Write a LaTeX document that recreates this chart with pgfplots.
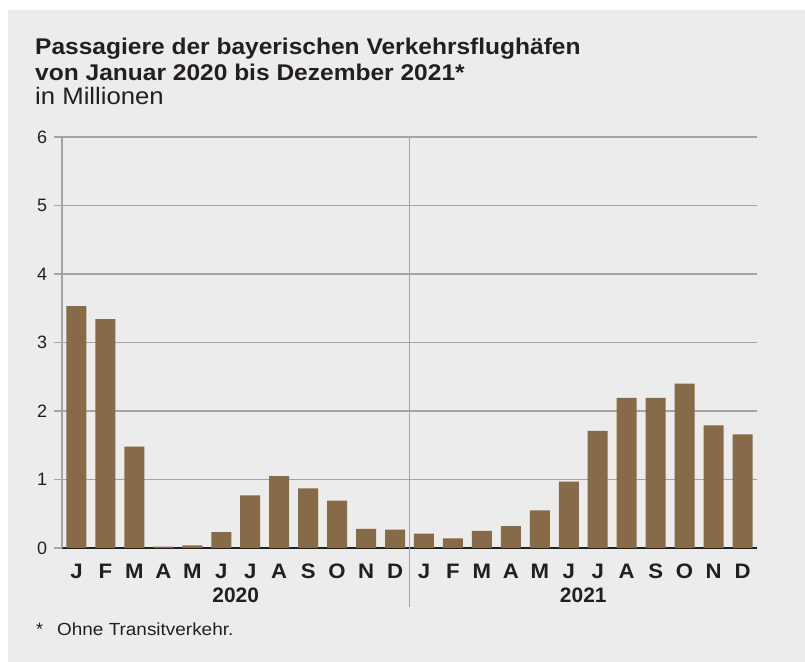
\documentclass[border=0pt]{standalone}
\usepackage{pgfplots}
\pgfplotsset{compat=1.18}
\usepackage{fontspec}
\setmainfont{Liberation Sans}
\newfontfamily\titlefont[FakeStretch=1.08]{Liberation Sans}
\newfontfamily\monthfont[FakeStretch=1.06]{Liberation Sans}
\definecolor{bg}{HTML}{EBECEB}
\definecolor{bar}{HTML}{876A48}
\definecolor{txt}{HTML}{231F20}
\definecolor{gridc}{HTML}{A3A4A4}
\begin{document}
\begin{tikzpicture}[x=1bp,y=1bp]
\fill[white] (0,0) rectangle (805,662);
\fill[bg] (8,0) rectangle (805,652);
\node[anchor=base west,inner sep=0,text=txt] at (35,607) {\titlefont\fontsize{22.8}{26}\selectfont\bfseries Passagiere der bayerischen Verkehrsflughäfen};
\node[anchor=base west,inner sep=0,text=txt] at (35,581) {\titlefont\fontsize{22.8}{26}\selectfont\bfseries von Januar 2020 bis Dezember 2021*};
\node[anchor=base west,inner sep=0,text=txt] at (35,557) {\titlefont\fontsize{23.9}{26}\selectfont in Millionen};
\node[anchor=base west,inner sep=0,text=txt] at (36,26) {\fontsize{18}{20}\selectfont *};
\node[anchor=base west,inner sep=0,text=txt] at (57,26) {\titlefont\fontsize{17.6}{20}\selectfont Ohne Transitverkehr.};
\begin{axis}[
  at={(62bp,114bp)}, anchor=south west,
  scale only axis, width=695bp, height=411bp,
  xmin=-0.5, xmax=23.5, ymin=0, ymax=6,
  ytick={0,1,2,3,4,5,6},
  xtick={0,...,23},
  xticklabels={J,F,M,A,M,J,J,A,S,O,N,D,J,F,M,A,M,J,J,A,S,O,N,D},
  axis x line*=bottom, axis y line*=left,
  x axis line style={draw=txt, line width=1.8bp, -},
  y axis line style={draw=gridc, line width=1.1bp, -},
  ymajorgrids, grid style={draw=gridc, line width=1.1bp},
  ytick style={draw=gridc, line width=1.1bp},
  major tick length=7.5bp, tick align=outside,
  xtick style={draw=none},
  /pgf/number format/assume math mode=true,
  yticklabel style={font=\fontsize{18}{20}\selectfont, text=txt, anchor=east, xshift=-4bp},
  xticklabel style={font=\monthfont\fontsize{21}{24}\selectfont\bfseries, text=txt, anchor=base, yshift=-23bp},
  clip=false,
  ybar, bar width=20bp,
]
\addplot[fill=bar, draw=none, bar shift=0pt] coordinates {
(0,3.53) (1,3.34) (2,1.48) (3,0.02) (4,0.04) (5,0.23) (6,0.77) (7,1.05) (8,0.87) (9,0.69) (10,0.28) (11,0.27)
(12,0.21) (13,0.14) (14,0.25) (15,0.32) (16,0.55) (17,0.97) (18,1.71) (19,2.19) (20,2.19) (21,2.40) (22,1.79) (23,1.66)
};
\draw[gridc, line width=1.1bp] (axis cs:11.5,6) -- ([yshift=-59bp]axis cs:11.5,0);
\node[anchor=base, text=txt, inner sep=0, font=\fontsize{21}{24}\selectfont\bfseries] at ([yshift=-55bp]axis cs:5.5,0) {2020};
\node[anchor=base, text=txt, inner sep=0, font=\fontsize{21}{24}\selectfont\bfseries] at ([yshift=-55bp]axis cs:17.5,0) {2021};
\end{axis}
\end{tikzpicture}
\end{document}
